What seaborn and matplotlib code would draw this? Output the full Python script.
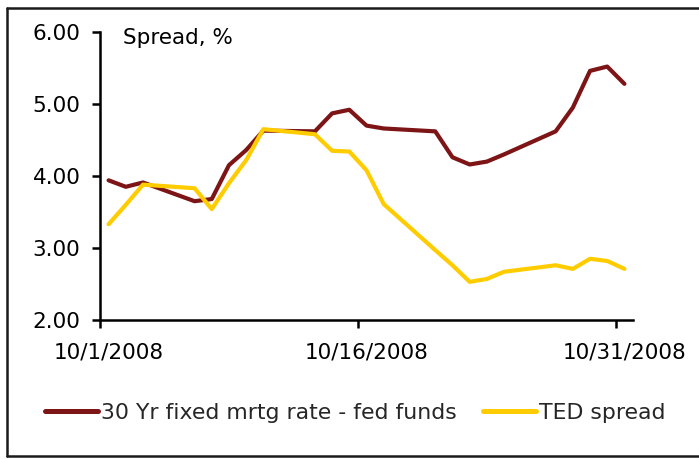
import matplotlib
matplotlib.use("Agg")
import matplotlib.pyplot as plt
import seaborn as sns
import pandas as pd
from matplotlib.lines import Line2D

# ---- data ----
days = [1, 2, 3, 6, 7, 8, 9, 10, 13, 14, 15, 16, 17, 20, 21, 22, 23, 24, 27, 28, 29, 30, 31]
mortgage_spread = [3.94, 3.85, 3.91, 3.65, 3.68, 4.15, 4.36, 4.63, 4.62, 4.87, 4.92, 4.70,
                   4.66, 4.62, 4.26, 4.16, 4.20, 4.30, 4.62, 4.95, 5.46, 5.52, 5.28]
ted_spread = [3.33, 3.60, 3.88, 3.83, 3.54, 3.90, 4.22, 4.65, 4.58, 4.35, 4.34, 4.08,
              3.61, 2.97, 2.76, 2.53, 2.57, 2.67, 2.76, 2.71, 2.85, 2.82, 2.71]
series_names = ["30 Yr fixed mrtg rate - fed funds", "TED spread"]
series_colors = ["#7D1416", "#FFCC00"]
x_tick_days = [1, 16, 31]
x_tick_labels = ["10/1/2008", "10/16/2008", "10/31/2008"]
y_ticks = [2, 3, 4, 5, 6]
y_tick_labels = ["2.00", "3.00", "4.00", "5.00", "6.00"]
axis_title = "Spread, %"

# ---- build long-form table (x = day center within the October date axis) ----
df = pd.DataFrame({
    "x": [d - 0.5 for d in days] * 2,
    "value": mortgage_spread + ted_spread,
    "series": [series_names[0]] * len(days) + [series_names[1]] * len(days),
})

sns.set_theme(style="ticks")
plt.rcParams["font.family"] = ["DejaVu Sans"]
FS = 15.5

fig = plt.figure(figsize=(6.99, 4.59), dpi=100)
ax = fig.add_axes([100 / 699, 139 / 459, 533 / 699, 288 / 459])

sns.lineplot(data=df, x="x", y="value", hue="series", palette=series_colors,
             hue_order=series_names, linewidth=3.0, ax=ax, legend=False,
             estimator=None, sort=False)

ax.set_xlim(0, 31)
ax.set_ylim(2, 6)
ax.set_xlabel("")
ax.set_ylabel("")

for s in ["top", "right"]:
    ax.spines[s].set_visible(False)
for s in ["left", "bottom"]:
    ax.spines[s].set_linewidth(1.8)
    ax.spines[s].set_color("black")

ax.set_yticks(y_ticks)
ax.set_yticklabels(y_tick_labels, fontsize=FS, color="black")
ax.tick_params(axis="y", direction="out", length=6, width=1.8, pad=8, colors="black")

# major ticks at day boundaries, labels centered on the day
ax.set_xticks([d - 1 for d in x_tick_days])
ax.set_xticklabels([])
ax.set_xticks([d - 0.5 for d in x_tick_days], minor=True)
ax.set_xticklabels(x_tick_labels, minor=True, fontsize=FS, color="black")
ax.tick_params(axis="x", which="major", direction="out", length=6, width=1.8, colors="black")
ax.tick_params(axis="x", which="minor", length=0, pad=16, colors="black")

ax.text(0.043, 0.98, axis_title, transform=ax.transAxes, fontsize=FS,
        va="center", ha="left", color="black")

handles = [Line2D([], [], color=c, lw=3.6) for c in series_colors]
fig.legend(handles, series_names, loc="center left",
           bbox_to_anchor=(45 / 699, 1 - 413 / 459), frameon=False, ncol=2,
           fontsize=15.8, handlelength=2.4, handletextpad=0.15,
           columnspacing=1.2, borderpad=0, borderaxespad=0)

# outer frame (left, top, bottom edges visible)
fx0, fy0, fy1 = 7 / 699, 1 - 8 / 459, 1 - 456 / 459
for xs, ys in [([fx0, fx0], [fy1, fy0]), ([fx0, 1.0], [fy0, fy0]), ([fx0, 1.0], [fy1, fy1])]:
    fig.add_artist(Line2D(xs, ys, transform=fig.transFigure, color="#1a1a1a", lw=1.8))

fig.savefig("out.png", dpi=100)
